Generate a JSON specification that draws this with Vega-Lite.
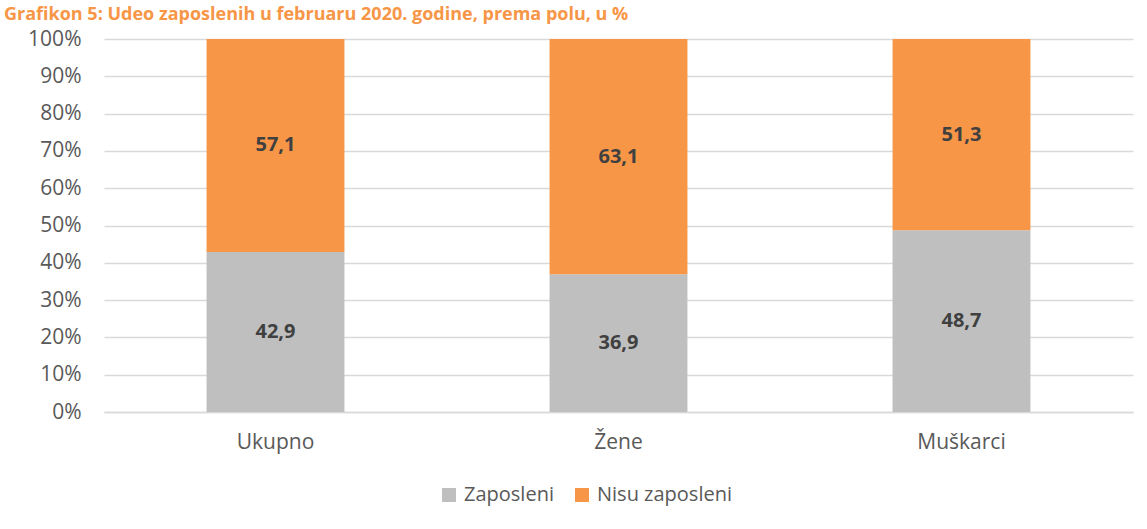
{
  "$schema": "https://vega.github.io/schema/vega-lite/v6.json",
  "autosize": "none",
  "width": 1029,
  "height": 373,
  "padding": {"left": 104, "top": 39, "right": 14, "bottom": 117},
  "background": "white",
  "title": {
    "text": "Grafikon 5: Udeo zaposlenih u februaru 2020. godine, prema polu, u %",
    "anchor": "start",
    "frame": "group",
    "orient": "top",
    "baseline": "alphabetic",
    "offset": 9,
    "dy": 19,
    "dx": -100,
    "font": "Open Sans",
    "fontSize": 18,
    "fontWeight": "bold",
    "color": "#F79646"
  },
  "data": {
    "values": [
      {"grupa": "Ukupno", "status": "Zaposleni", "red": 1, "udeo": 42.9, "oznaka": "42,9"},
      {"grupa": "Ukupno", "status": "Nisu zaposleni", "red": 2, "udeo": 57.1, "oznaka": "57,1"},
      {"grupa": "Žene", "status": "Zaposleni", "red": 1, "udeo": 36.9, "oznaka": "36,9"},
      {"grupa": "Žene", "status": "Nisu zaposleni", "red": 2, "udeo": 63.1, "oznaka": "63,1"},
      {"grupa": "Muškarci", "status": "Zaposleni", "red": 1, "udeo": 48.7, "oznaka": "48,7"},
      {"grupa": "Muškarci", "status": "Nisu zaposleni", "red": 2, "udeo": 51.3, "oznaka": "51,3"}
    ]
  },
  "transform": [
    {"stack": "udeo", "groupby": ["grupa"], "sort": [{"field": "red", "order": "ascending"}], "as": ["y0", "y1"]},
    {"calculate": "(datum.y0 + datum.y1) / 2", "as": "ymid"}
  ],
  "encoding": {
    "x": {
      "field": "grupa",
      "type": "nominal",
      "sort": ["Ukupno", "Žene", "Muškarci"],
      "scale": {"paddingInner": 0.598, "paddingOuter": 0.299},
      "axis": {
        "title": null,
        "labelAngle": 0,
        "ticks": false,
        "domain": true,
        "domainColor": "#D9D9D9",
        "domainWidth": 1.5,
        "labelFont": "Open Sans",
        "labelFontSize": 21,
        "labelColor": "#595959",
        "labelPadding": 19
      }
    }
  },
  "layer": [
    {
      "mark": {"type": "bar"},
      "encoding": {
        "y": {
          "field": "y0",
          "type": "quantitative",
          "scale": {"domain": [0, 100], "nice": false},
          "axis": {
            "title": null,
            "values": [0, 10, 20, 30, 40, 50, 60, 70, 80, 90, 100],
            "labelExpr": "datum.value + '%'",
            "labelOverlap": false,
            "ticks": false,
            "domain": false,
            "grid": true,
            "gridColor": "#D9D9D9",
            "gridWidth": 1.5,
            "labelFont": "Open Sans",
            "labelFontSize": 21,
            "labelColor": "#595959",
            "labelPadding": 23
          }
        },
        "y2": {"field": "y1"},
        "color": {
          "field": "status",
          "type": "nominal",
          "scale": {"domain": ["Zaposleni", "Nisu zaposleni"], "range": ["#BFBFBF", "#F79646"]},
          "legend": {
            "title": null,
            "orient": "none",
            "direction": "horizontal",
            "legendX": 335,
            "legendY": 446,
            "symbolType": "square",
            "symbolSize": 196,
            "symbolStrokeWidth": 0,
            "labelFont": "Open Sans",
            "labelFontSize": 20,
            "labelColor": "#595959",
            "columnPadding": 18,
            "labelOffset": 5
          }
        }
      }
    },
    {
      "mark": {"type": "text", "font": "Open Sans", "fontSize": 20, "fontWeight": "bold", "color": "#404040", "baseline": "middle"},
      "encoding": {
        "y": {
          "field": "ymid",
          "type": "quantitative",
          "axis": {
            "title": null,
            "values": [0, 10, 20, 30, 40, 50, 60, 70, 80, 90, 100],
            "labelExpr": "datum.value + '%'",
            "labelOverlap": false,
            "ticks": false,
            "domain": false,
            "grid": true,
            "gridColor": "#D9D9D9",
            "gridWidth": 1.5,
            "labelFont": "Open Sans",
            "labelFontSize": 21,
            "labelColor": "#595959",
            "labelPadding": 23
          }
        },
        "text": {"field": "oznaka", "type": "nominal"}
      }
    }
  ],
  "config": {
    "view": {"stroke": null},
    "axisY": {"labelOverlap": false}
  }
}
